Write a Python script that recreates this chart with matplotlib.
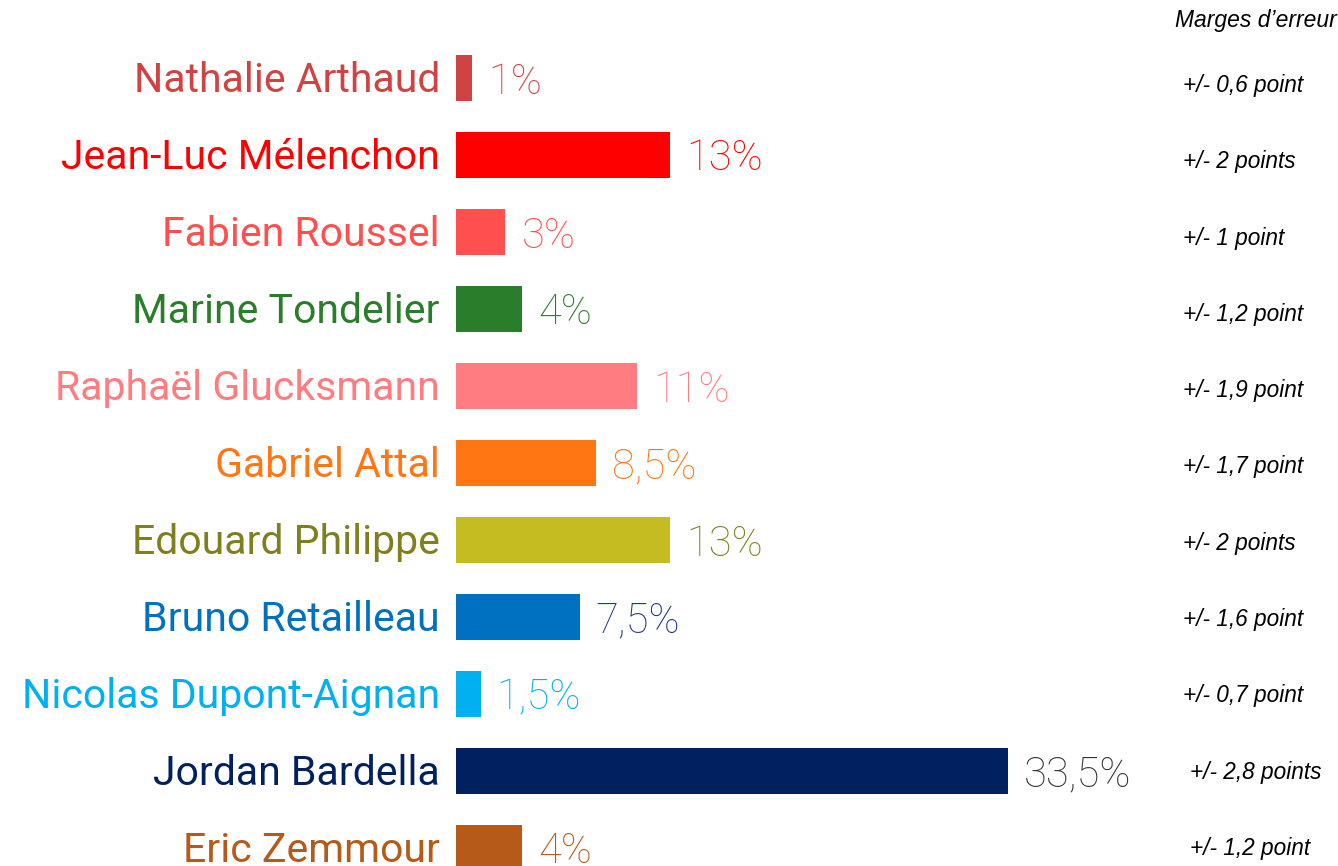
import matplotlib
matplotlib.use("Agg")
import matplotlib.pyplot as plt

candidates = ["Nathalie Arthaud", "Jean-Luc Mélenchon", "Fabien Roussel", "Marine Tondelier",
              "Raphaël Glucksmann", "Gabriel Attal", "Edouard Philippe", "Bruno Retailleau",
              "Nicolas Dupont-Aignan", "Jordan Bardella", "Eric Zemmour"]
values = [1, 13, 3, 4, 11, 8.5, 13, 7.5, 1.5, 33.5, 4]
value_labels = ["1%", "13%", "3%", "4%", "11%", "8,5%", "13%", "7,5%", "1,5%", "33,5%", "4%"]
margins = ["+/- 0,6 point", "+/- 2 points", "+/- 1 point", "+/- 1,2 point", "+/- 1,9 point",
           "+/- 1,7 point", "+/- 2 points", "+/- 1,6 point", "+/- 0,7 point", "+/- 2,8 points",
           "+/- 1,2 point"]
bar_colors = ["#D04343", "#FF0000", "#FF4F4F", "#2A7D2A", "#FF7C80", "#FF7612",
              "#C4BC20", "#0070C0", "#00B0F0", "#002060", "#B55A18"]
name_colors = ["#D04343", "#FF0000", "#FF4F4F", "#2A7D2A", "#FF7C80", "#FF7612",
               "#7F7F1F", "#0070C0", "#00B0F0", "#002060", "#B55A18"]
label_colors = ["#D04343", "#FF0000", "#FF4F4F", "#2A7D2A", "#FF7C80", "#FF7612",
                "#7F7F1F", "#1F3A7A", "#00B0F0", "#333333", "#B55A18"]

W, H = 1338, 866
fig = plt.figure(figsize=(W / 100, H / 100), dpi=100)
ax = fig.add_axes([0, 0, 1, 1])

x0_px, px_per_pct = 456, 16.48
row0_px, row_px = 78, 77
ax.set_xlim(-x0_px / px_per_pct, (W - x0_px) / px_per_pct)
ax.set_ylim((H - row0_px) / row_px, -row0_px / row_px)
ax.axis("off")

def px(dx):
    return dx / px_per_pct

def py(ypix):
    # absolute pixel y (from top) -> data y
    return (ypix - row0_px) / row_px

rows = list(range(len(candidates)))
ax.barh(rows, values, height=0.61, color=bar_colors, left=0)

name_font = "Roboto"
for i, (name, v, lab) in enumerate(zip(candidates, values, value_labels)):
    ax.text(px(-16), i + 14 / row_px, name, ha="right", va="baseline", fontsize=29.5,
            color=name_colors[i], family=name_font)
    ax.text(v + px(16), i + 15.5 / row_px, lab, ha="left", va="baseline", fontsize=30,
            color=label_colors[i], family=name_font, fontweight="light")
    mx = 1183 if i < 9 else 1190
    ax.text(px(mx - x0_px), py(92 + 76.3 * i), margins[i], ha="left", va="baseline",
            fontsize=16.3, style="italic", color="black", family="Liberation Sans")

ax.text(px(1175 - x0_px), py(27), "Marges d’erreur", ha="left", va="baseline",
        fontsize=16.5, style="italic", color="black", family="Liberation Sans")

fig.savefig("out.png", dpi=100)
